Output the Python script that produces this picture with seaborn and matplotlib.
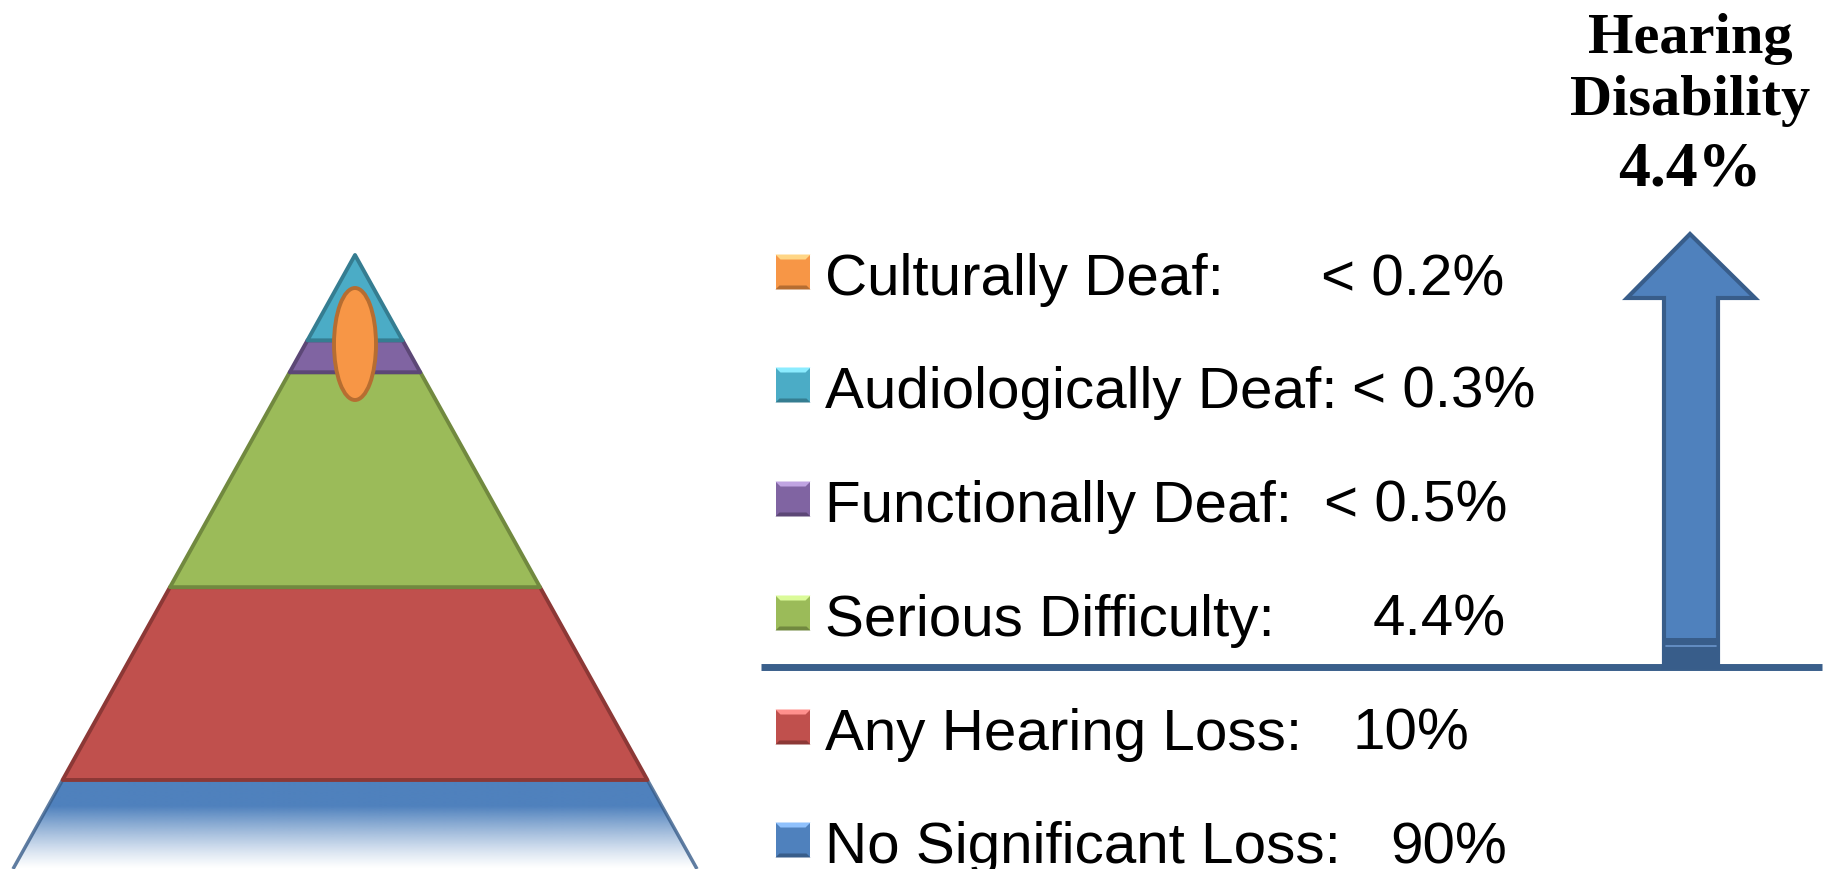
import numpy as np
import matplotlib
matplotlib.use("Agg")
import matplotlib.pyplot as plt
import seaborn as sns
import pandas as pd
from matplotlib.patches import Polygon, Ellipse, Rectangle

# ---------------- data ----------------
categories = ["Culturally Deaf:", "Audiologically Deaf:", "Functionally Deaf:",
              "Serious Difficulty:", "Any Hearing Loss:", "No Significant Loss:"]
values = ["< 0.2%", "< 0.3%", "< 0.5%", "4.4%", "10%", "90%"]
fill_colors = ["#F79646", "#4BACC6", "#8064A2", "#9BBB59", "#C0504D", "#4F81BD"]
edge_colors = ["#B66D31", "#357D91", "#5C4776", "#71893F", "#8C3836", "#385D8A"]
# pyramid band bottoms (fraction of pyramid height from apex) for
# Audiologically, Functionally, Serious, Any, No Significant
band_bottoms = [0.139, 0.191, 0.541, 0.855, 1.0]
title_lines = ["Hearing", "Disability", "4.4%"]

# ---------------- style ----------------
sns.set_theme(style="white")
plt.rcParams['font.family'] = ['Liberation Sans', 'DejaVu Sans']

W, H = 1835, 869
fig = plt.figure(figsize=(W / 100, H / 100), dpi=100)
ax = fig.add_axes([0, 0, 1, 1])
ax.set_xlim(0, W)
ax.set_ylim(H, 0)
ax.axis('off')

# ---------------- pyramid ----------------
apex_x, apex_y, pyr_h, half_base = 355, 255, 614, 342
yf = lambda f: apex_y + f * pyr_h
hw = lambda f: half_base * f
tops = [0.0] + band_bottoms[:-1]

for i in reversed(range(len(band_bottoms))):
    t, b = tops[i], band_bottoms[i]
    ci = i + 1
    pts = [(apex_x - hw(t), yf(t)), (apex_x + hw(t), yf(t)),
           (apex_x + hw(b), yf(b)), (apex_x - hw(b), yf(b))]
    if ci == 5:
        poly = Polygon(pts, closed=True, facecolor='none', edgecolor='none')
        ax.add_patch(poly)
        n = 200
        alpha = np.ones(n)
        k = int(n * 0.3)
        alpha[k:] = np.linspace(1.0, 0.0, n - k) ** 1.2
        rgb = matplotlib.colors.to_rgb(fill_colors[ci])
        img = np.zeros((n, 1, 4))
        img[:, 0, :3] = rgb
        img[:, 0, 3] = alpha
        im = ax.imshow(img, extent=(apex_x - hw(b), apex_x + hw(b), yf(b), yf(t)),
                       origin='upper', aspect='auto', zorder=1, interpolation='bilinear')
        im.set_clip_path(poly)
        for sgn in (-1, 1):
            ax.plot([apex_x + sgn * hw(t), apex_x + sgn * hw(b)], [yf(t), yf(b)],
                    color=edge_colors[ci], lw=2.5, alpha=0.8, zorder=2, solid_capstyle='butt')
    else:
        ax.add_patch(Polygon(pts, closed=True, facecolor=fill_colors[ci],
                             edgecolor=edge_colors[ci], lw=2.8, joinstyle='round', zorder=2 + (5 - ci)))

ax.add_patch(Ellipse((apex_x, 344), 42, 112, facecolor=fill_colors[0],
                     edgecolor=edge_colors[0], lw=2.8, zorder=10))

# ---------------- legend ----------------
row_base = [295, 408, 522, 636, 750, 863]
marker_x = 793
df = pd.DataFrame({"x": [marker_x] * len(categories),
                   "y": [b - 23 for b in row_base],
                   "cat": categories})
sns.scatterplot(data=df, x="x", y="y", hue="cat", palette=fill_colors, marker='s',
                s=620, edgecolor=None, linewidth=0, legend=False, ax=ax, zorder=5)
for i, (xx, yy) in enumerate(zip(df["x"], df["y"])):
    h = 17.5
    light = tuple(min(1, c + 0.25) for c in matplotlib.colors.to_rgb(fill_colors[i]))
    dark = edge_colors[i]
    ax.add_patch(Polygon([(xx - h, yy - h), (xx + h, yy - h), (xx + h - 5, yy - h + 5), (xx - h + 5, yy - h + 5)],
                         facecolor=light, edgecolor='none', zorder=6))
    ax.add_patch(Polygon([(xx - h, yy + h), (xx + h, yy + h), (xx + h - 4, yy + h - 4), (xx - h + 4, yy + h - 4)],
                         facecolor=dark, edgecolor='none', zorder=6))

value_right = [1504, 1535, 1507, 1506, 1469, 1507]
for i, (cat, val) in enumerate(zip(categories, values)):
    ax.text(825, row_base[i], cat, fontsize=42, va='baseline', ha='left', color='black')
    ax.text(value_right[i], row_base[i], val, fontsize=42, va='baseline', ha='right', color='black')

# ---------------- divider and arrow ----------------
ax.plot([761, 1822], [667, 667], color="#3A5F8B", lw=5, solid_capstyle='butt', zorder=3)

arrow = [(1664, 667), (1664, 298), (1627, 298), (1690, 234), (1755, 298),
         (1718, 298), (1718, 667)]
ax.add_patch(Polygon(arrow, closed=True, facecolor="#4F81BD", edgecolor="#385D8A",
                     lw=3, joinstyle='miter', zorder=4))
ax.add_patch(Rectangle((1664, 638), 54, 29, facecolor="#385D8A", edgecolor='none', zorder=5))
ax.plot([1666, 1716], [646, 646], color="#6A95CC", lw=1.2, zorder=6)

# ---------------- title ----------------
title_base = [53, 115, 185]
title_sizes = [42, 42, 46]
for line, yb, fs in zip(title_lines, title_base, title_sizes):
    ax.text(1690, yb, line, fontsize=fs, fontweight='bold', va='baseline', ha='center',
            family=['Liberation Serif', 'DejaVu Serif'], color='black')

fig.savefig("out.png", dpi=100, facecolor='white')
